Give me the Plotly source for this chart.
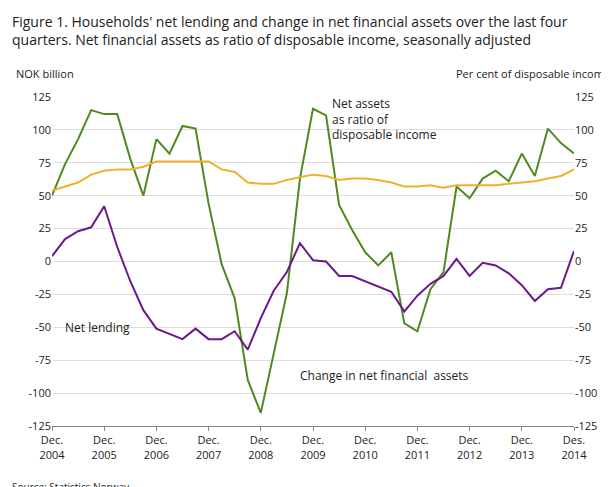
import plotly.graph_objects as go

# quarters Dec 2004 .. Dec 2014
quarter_idx = list(range(41))
tick_pos = list(range(0, 41, 4))
tick_text = ["Dec.<br>%d" % y for y in range(2004, 2014)] + ["Des.<br>2014"]

change_net_assets = [50, 74, 93, 115, 112, 112, 78, 50, 93, 82, 103, 101, 44, -2, -28, -90,
                     -115, -70, -24, 63, 116, 111, 43, 24, 7, -3, 7, -47, -53, -21, -8, 57,
                     48, 63, 69, 61, 82, 65, 101, 90, 82]
net_lending = [4, 17, 23, 26, 42, 11, -15, -37, -51, -55, -59, -51, -59, -59, -53, -67,
               -43, -22, -8, 14, 1, 0, -11, -11, -15, -19, -23, -38, -26, -17, -11, 2,
               -11, -1, -3, -9, -18, -30, -21, -20, 8]
assets_ratio = [54, 57, 60, 66, 69, 70, 70, 72, 76, 76, 76, 76, 76, 70, 68, 60,
                59, 59, 62, 64, 66, 65, 62, 63, 63, 62, 60, 57, 57, 58, 56, 58,
                58, 58, 58, 59, 60, 61, 63, 65, 70]

GREEN = "#4f8a1f"
PURPLE = "#6a1a8c"
ORANGE = "#f0b02a"

fig = go.Figure()
fig.add_trace(go.Scatter(x=quarter_idx, y=change_net_assets, mode="lines",
                         line=dict(color=GREEN, width=2)))
fig.add_trace(go.Scatter(x=quarter_idx, y=net_lending, mode="lines",
                         line=dict(color=PURPLE, width=2)))
fig.add_trace(go.Scatter(x=quarter_idx, y=assets_ratio, mode="lines",
                         line=dict(color=ORANGE, width=2), yaxis="y2"))

ticks = list(range(-125, 126, 25))
tick_labels = [str(t) for t in ticks]  # plain hyphen minus like the original
fig.update_layout(
    width=609, height=487, showlegend=False,
    plot_bgcolor="white", paper_bgcolor="white",
    font=dict(family="Open Sans", size=11, color="#222"),
    margin=dict(l=44, r=43, t=89, b=69),
    xaxis=dict(range=[0, 40], tickvals=tick_pos, ticktext=tick_text,
               showgrid=False, showline=True, linecolor="#888",
               ticks="outside", ticklen=4, tickcolor="#888"),
    yaxis=dict(range=[-125, 125], tickvals=ticks, ticktext=tick_labels,
               gridcolor="#dddddd", zeroline=False),
    yaxis2=dict(range=[-125, 125], tickvals=ticks, ticktext=tick_labels,
                overlaying="y", side="right", showgrid=False, zeroline=False),
)

fig.add_annotation(text="Figure 1. Households' net lending and change in net financial assets over the last four<br>quarters. Net financial assets as ratio of disposable income, seasonally adjusted",
                   xref="paper", yref="paper", x=0, xshift=-42, y=1.0, yshift=87,
                   xanchor="left", yanchor="top", align="left", showarrow=False,
                   font=dict(size=14, color="#222"))
fig.add_annotation(text="NOK billion", xref="paper", yref="paper", x=0, xshift=-38, y=1.0,
                   yshift=14, xanchor="left", yanchor="bottom", showarrow=False)
fig.add_annotation(text="Per cent of disposable income", xref="paper", yref="paper",
                   x=1.0, xshift=38, y=1.0, yshift=14, xanchor="right", yanchor="bottom",
                   showarrow=False)
fig.add_annotation(text="Net assets<br>as ratio of<br>disposable income", x=25.5, y=108,
                   showarrow=False, align="left", font=dict(size=12))
fig.add_annotation(text="Net lending", x=3.5, y=-50, showarrow=False, font=dict(size=12))
fig.add_annotation(text="Change in net financial  assets", x=25.5, y=-87, showarrow=False,
                   font=dict(size=12))
fig.add_annotation(text="Source: Statistics Norway.", xref="paper", yref="paper",
                   x=0, xshift=-42, y=0, yshift=-52, xanchor="left", yanchor="top",
                   showarrow=False, font=dict(size=10))

fig.write_html("out.html")
